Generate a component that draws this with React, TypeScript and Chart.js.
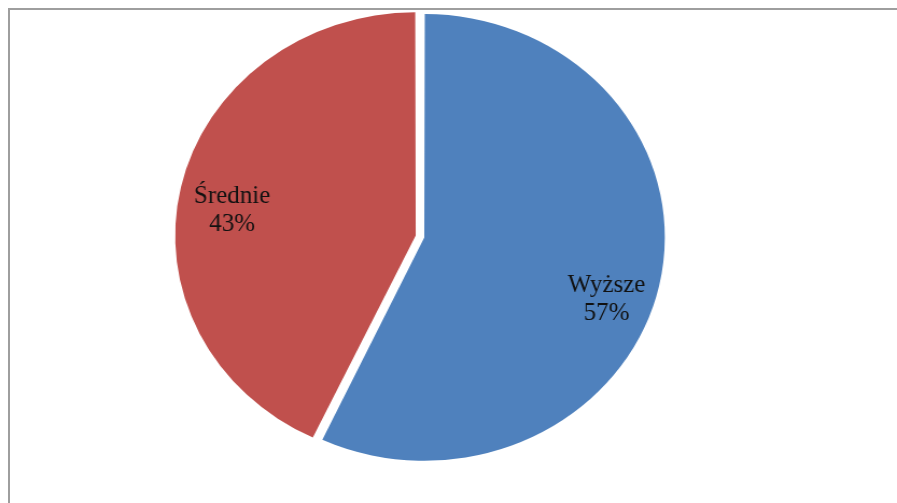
import React, { useEffect, useRef } from "react";
import { Chart, registerables } from "chart.js";

Chart.register(...registerables);

const categories = ["Wyższe", "Średnie"];
const values = [57, 43];
const colors = ["#4F81BD", "#C0504D"];
const sliceOffsets = [11.9, 20.7];
const labelDistance = [0.829, 0.778];
const labelAngleNudge = [9.5, -6.5];

const PAGE_W = 897;
const PAGE_H = 503;
const SX = 1.0768;
const CANVAS_W = Math.round(PAGE_W / SX);

const labelPlugin = {
  id: "sliceLabels",
  afterDatasetsDraw(chart: any) {
    const ctx = chart.ctx;
    const meta = chart.getDatasetMeta(0);
    const total = values.reduce((a, b) => a + b, 0);
    const sx = chart.canvas.clientWidth / chart.width;
    meta.data.forEach((arc: any, i: number) => {
      const { x, y, startAngle, endAngle, outerRadius } = arc.getProps(
        ["x", "y", "startAngle", "endAngle", "outerRadius"],
        true
      );
      const mid = (startAngle + endAngle) / 2;
      const t = sliceOffsets[i] / 4;
      const cx = x + Math.cos(mid) * t;
      const cy = y + Math.sin(mid) * t;
      const a = mid + (labelAngleNudge[i] * Math.PI) / 180;
      const r = outerRadius * labelDistance[i];
      const px = cx + Math.cos(a) * r;
      const py = cy + Math.sin(a) * r;
      ctx.save();
      ctx.translate(px, py);
      ctx.scale(1 / sx, 1);
      ctx.font = '25px "Liberation Serif", serif';
      ctx.fillStyle = "#111";
      ctx.textAlign = "center";
      ctx.textBaseline = "alphabetic";
      ctx.fillText(categories[i], 0, -14);
      ctx.fillText(Math.round((values[i] / total) * 100) + "%", 0, 14);
      ctx.restore();
    });
  },
};

export default function App() {
  const ref = useRef<HTMLCanvasElement | null>(null);
  useEffect(() => {
    if (!ref.current) return;
    const chart = new Chart(ref.current, {
      type: "pie",
      data: {
        labels: categories,
        datasets: [
          {
            data: values,
            backgroundColor: colors,
            borderWidth: 0,
            offset: sliceOffsets,
            radius: 220.4,
          } as any,
        ],
      },
      options: {
        responsive: false,
        animation: false,
        devicePixelRatio: 1,
        events: [],
        layout: {
          padding: { left: 0, top: 0, right: CANVAS_W - 2 * 391.1, bottom: PAGE_H - 2 * 236.75 },
        },
        plugins: {
          legend: { display: false },
          tooltip: { enabled: false },
        },
      },
      plugins: [labelPlugin],
    });
    return () => chart.destroy();
  }, []);
  return (
    <div
      style={{
        position: "fixed",
        left: 0,
        top: 0,
        width: PAGE_W,
        height: PAGE_H,
        overflow: "hidden",
        background: "#fff",
      }}
    >
      <div
        style={{
          position: "absolute",
          left: 8,
          top: 8,
          width: PAGE_W,
          height: PAGE_H,
          borderLeft: "2px solid #9e9e9e",
          borderTop: "2px solid #9e9e9e",
        }}
      />
      <canvas
        ref={ref}
        width={CANVAS_W}
        height={PAGE_H}
        style={{ position: "absolute", left: 0, top: 0, width: PAGE_W + "px", height: PAGE_H + "px" }}
      />
    </div>
  );
}
